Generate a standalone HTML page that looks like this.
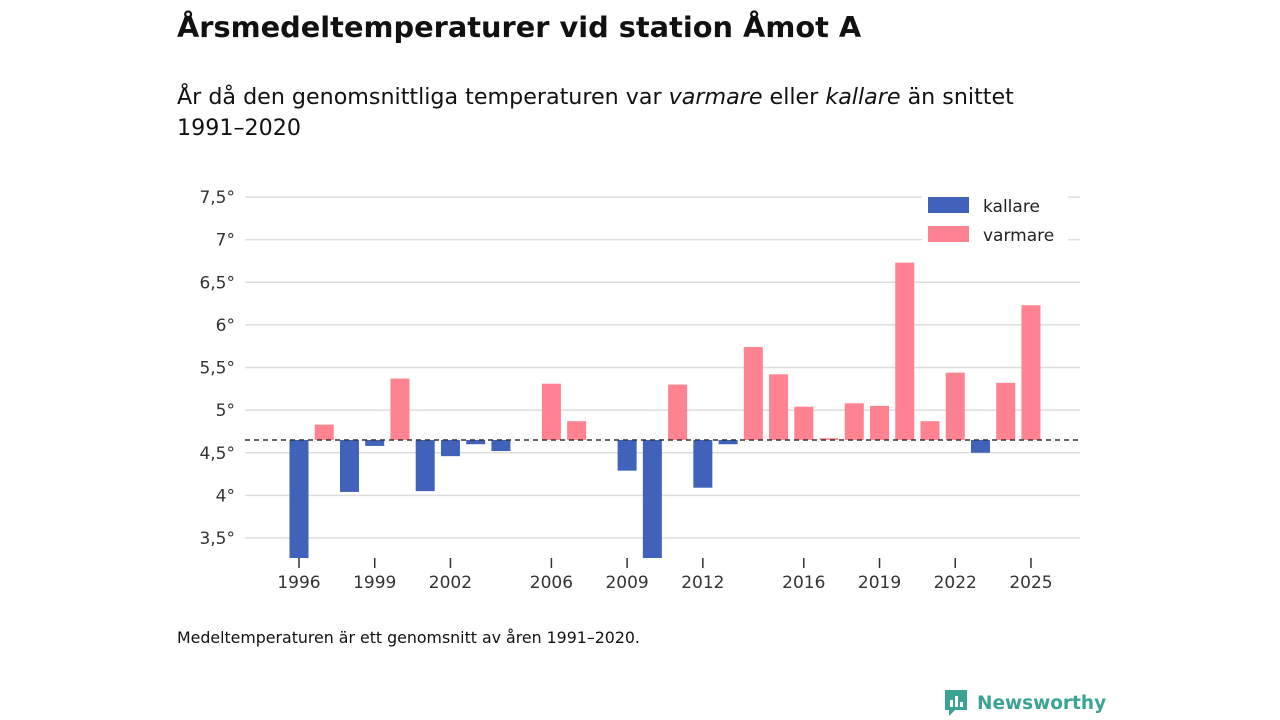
<!DOCTYPE html>
<html><head><meta charset="utf-8"><style>
body{margin:0;width:1280px;height:720px;background:#fff;font-family:"DejaVu Sans","Liberation Sans",sans-serif;color:#111;position:relative;overflow:hidden}
#title{position:absolute;left:177px;top:10px;font-size:28.8px;font-weight:bold;margin:0}
#sub{position:absolute;left:177px;top:82px;font-size:22.2px;line-height:31px;width:860px}
#note{position:absolute;left:177px;top:628px;font-size:15.8px}
#logo{position:absolute;left:943px;top:688px;font-size:18.5px;font-weight:bold;color:#3aa396;display:flex;align-items:center;gap:8px}
</style></head><body>
<h1 id="title">Årsmedeltemperaturer vid station Åmot A</h1>
<div id="sub">År då den genomsnittliga temperaturen var <i>varmare</i> eller <i>kallare</i> än snittet 1991–2020</div>
<svg id="chart" width="1280" height="720" style="position:absolute;left:0;top:0"></svg>
<div id="note">Medeltemperaturen är ett genomsnitt av åren 1991–2020.</div>
<div id="logo"><svg width="26" height="30" viewBox="0 0 26 30"><path d="M2 2h22v20H12l-6 6v-6H2z" fill="#3aa396"/><rect x="7" y="12" width="3" height="7" fill="#fff"/><rect x="12" y="8" width="3" height="11" fill="#fff"/><rect x="17" y="14" width="3" height="5" fill="#fff"/></svg>Newsworthy</div>
<script>
const years=[1996,1997,1998,1999,2000,2001,2002,2003,2004,2005,2006,2007,2008,2009,2010,2011,2012,2013,2014,2015,2016,2017,2018,2019,2020,2021,2022,2023,2024,2025];
const temps=[3.2,4.83,4.04,4.58,5.37,4.05,4.46,4.6,4.52,null,5.31,4.87,null,4.29,3.2,5.3,4.09,4.6,5.74,5.42,5.04,4.67,5.08,5.05,6.73,4.87,5.44,4.5,5.32,6.23];
const baseline=4.65;
const yTicks=[3.5,4,4.5,5,5.5,6,6.5,7,7.5];
const xTickYears=[1996,1999,2002,2006,2009,2012,2016,2019,2022,2025];
const NS='http://www.w3.org/2000/svg';
const svg=document.getElementById('chart');
const L=245,R=1080,T=180,B=558;
const y=v=>538-(v-3.5)*85.25;
const x=yr=>299+(yr-1996)*25.24;
function mk(t,a){const e=document.createElementNS(NS,t);for(const k in a)e.setAttribute(k,a[k]);svg.appendChild(e);return e;}
yTicks.forEach(v=>{
 const g=mk('line',{x1:L,x2:R,y1:y(v),y2:y(v),stroke:'#ddd','stroke-width':1.5});
 
 
 const t=mk('text',{x:235,y:y(v)+6,'text-anchor':'end','font-size':17,fill:'#333'});
 t.textContent=String(v).replace('.',',')+'°';
 
 
});
const clip=mk('clipPath',{id:'pc'});
const cr=document.createElementNS(NS,'rect');cr.setAttribute('x',L);cr.setAttribute('y',T);cr.setAttribute('width',R-L);cr.setAttribute('height',B-T);clip.appendChild(cr);
years.forEach((yr,i)=>{
 const v=temps[i];if(v==null)return;
 const top=Math.min(y(v),y(baseline)),h=Math.abs(y(v)-y(baseline));
 const b=mk('rect',{x:x(yr)-9.5,y:top,width:19,height:Math.max(h,1),fill:v<baseline?'#4062bb':'#ff8290','clip-path':'url(#pc)'});
 
 
});
const bl=mk('line',{x1:L,x2:R,y1:y(baseline),y2:y(baseline),stroke:'#333','stroke-width':1.5,'stroke-dasharray':'5,4'});


xTickYears.forEach(yr=>{
 const tk=mk('line',{x1:x(yr),x2:x(yr),y1:B,y2:B+10,stroke:'#333','stroke-width':1.5});
 
 
 const t=mk('text',{x:x(yr),y:B+30,'text-anchor':'middle','font-size':17,fill:'#333'});
 t.textContent=yr;
 
 
});
const lg=mk('rect',{x:922,y:190,width:146,height:60,fill:'#fff'});


[['kallare','#4062bb',197],['varmare','#ff8290',226]].forEach(([n,c,yy])=>{
 const s=mk('rect',{x:928,y:yy,width:41,height:16,fill:c});
 
 
 const t=mk('text',{x:983,y:yy+15,'font-size':17,fill:'#222'});
 t.textContent=n;
 
 
});
</script>
</body></html>
